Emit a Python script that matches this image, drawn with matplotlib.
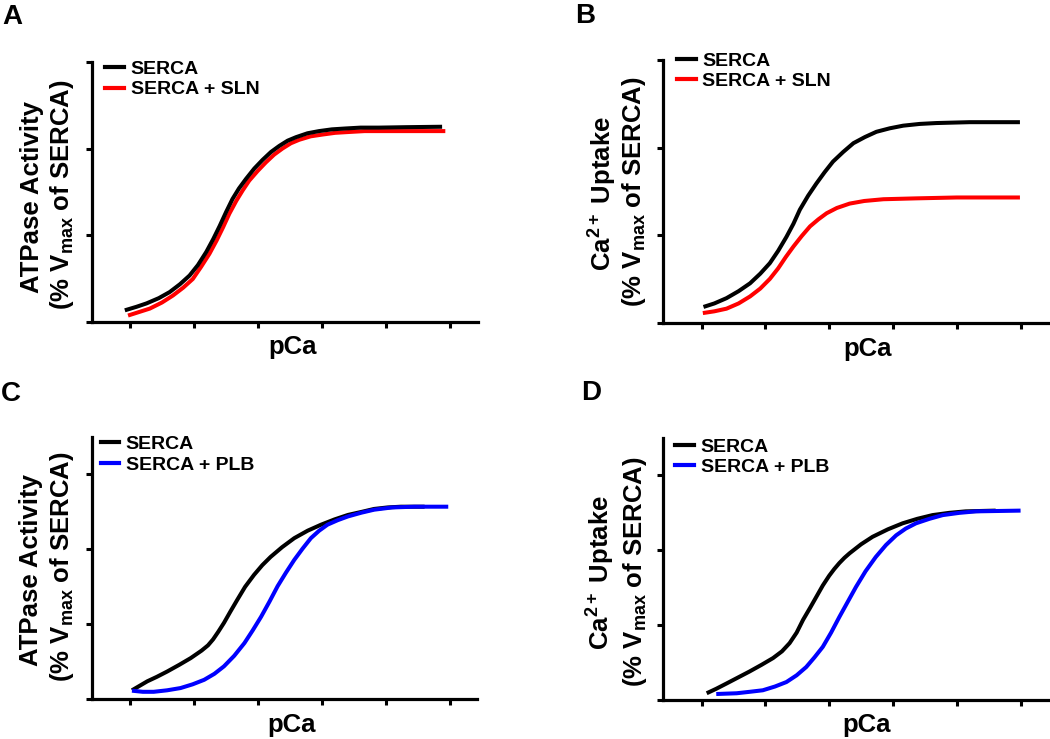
import matplotlib
matplotlib.use("Agg")
import matplotlib.pyplot as plt
from matplotlib.lines import Line2D

plt.rcParams['font.family'] = ['Liberation Sans', 'DejaVu Sans']
plt.rcParams['font.weight'] = 'bold'
plt.rcParams['mathtext.fontset'] = 'custom'
plt.rcParams['mathtext.rm'] = 'Liberation Sans'
plt.rcParams['mathtext.it'] = 'Liberation Sans'
plt.rcParams['mathtext.bf'] = 'Liberation Sans:bold'

# ---- data (x in pCa tick units, y in y-tick units) ----
# Panel A: ATPase activity, SERCA vs SERCA + SLN
a_serca_x = [0.92, 1.10, 1.26, 1.45, 1.62, 1.78, 1.93, 2.06, 2.19, 2.30, 2.40, 2.50, 2.60, 2.70,
             2.81, 2.94, 3.07, 3.20, 3.33, 3.46, 3.59, 3.77, 3.95, 4.15, 4.36, 4.60, 4.88, 5.30, 5.87]
a_serca_y = [0.14, 0.18, 0.22, 0.28, 0.35, 0.44, 0.54, 0.66, 0.81, 0.96, 1.11, 1.27, 1.42, 1.54,
             1.65, 1.77, 1.87, 1.96, 2.03, 2.09, 2.13, 2.175, 2.20, 2.22, 2.23, 2.24, 2.24, 2.245, 2.25]
a_sln_x = [0.97, 1.14, 1.31, 1.50, 1.67, 1.83, 1.98, 2.11, 2.24, 2.35, 2.45, 2.55, 2.66, 2.76,
           2.86, 2.99, 3.12, 3.25, 3.38, 3.51, 3.64, 3.82, 4.00, 4.20, 4.42, 4.66, 4.94, 5.40, 5.92]
a_sln_y = [0.08, 0.12, 0.16, 0.23, 0.31, 0.40, 0.50, 0.64, 0.79, 0.94, 1.09, 1.25, 1.40, 1.52,
           1.63, 1.74, 1.84, 1.93, 2.00, 2.06, 2.10, 2.14, 2.16, 2.18, 2.19, 2.20, 2.20, 2.20, 2.20]

# Panel B: Ca2+ uptake, SERCA vs SERCA + SLN
b_serca_x = [1.03, 1.20, 1.39, 1.58, 1.76, 1.92, 2.07, 2.20, 2.33, 2.44, 2.54, 2.67, 2.80,
             2.93, 3.06, 3.22, 3.38, 3.56, 3.74, 3.95, 4.16, 4.42, 4.68, 5.20, 5.99]
b_serca_y = [0.18, 0.22, 0.28, 0.36, 0.45, 0.56, 0.68, 0.82, 0.98, 1.13, 1.29, 1.45, 1.59,
             1.72, 1.84, 1.95, 2.05, 2.12, 2.18, 2.22, 2.25, 2.27, 2.28, 2.29, 2.29]
b_sln_x = [1.02, 1.20, 1.39, 1.58, 1.76, 1.92, 2.07, 2.20, 2.32, 2.44, 2.57, 2.70, 2.83,
           2.96, 3.12, 3.32, 3.55, 3.85, 4.37, 5.00, 5.99]
b_sln_y = [0.11, 0.13, 0.16, 0.22, 0.30, 0.39, 0.50, 0.62, 0.75, 0.87, 0.99, 1.10, 1.18,
           1.25, 1.31, 1.36, 1.39, 1.41, 1.42, 1.43, 1.43]

# Panel C: ATPase activity, SERCA vs SERCA + PLB
c_serca_x = [1.03, 1.15, 1.27, 1.42, 1.58, 1.77, 1.95, 2.12, 2.22, 2.30, 2.38, 2.47, 2.57, 2.68, 2.80,
             2.94, 3.07, 3.20, 3.38, 3.57, 3.78, 3.99, 4.20, 4.41, 4.62, 4.82, 5.03, 5.24, 5.61]
c_serca_y = [0.12, 0.18, 0.24, 0.30, 0.37, 0.46, 0.55, 0.65, 0.72, 0.80, 0.90, 1.02, 1.17, 1.33, 1.50,
             1.66, 1.79, 1.90, 2.03, 2.15, 2.25, 2.33, 2.40, 2.46, 2.50, 2.54, 2.56, 2.57, 2.57]
c_plb_x = [1.03, 1.20, 1.37, 1.58, 1.79, 1.98, 2.16, 2.32, 2.47, 2.63, 2.79, 2.92, 3.05, 3.18,
           3.31, 3.44, 3.57, 3.70, 3.83, 3.96, 4.09, 4.25, 4.41, 4.62, 4.82, 5.10, 5.45, 5.98]
c_plb_y = [0.115, 0.10, 0.10, 0.12, 0.15, 0.20, 0.26, 0.34, 0.44, 0.58, 0.75, 0.92, 1.10, 1.30,
           1.51, 1.69, 1.86, 2.01, 2.15, 2.25, 2.33, 2.39, 2.44, 2.49, 2.53, 2.56, 2.57, 2.57]

# Panel D: Ca2+ uptake, SERCA vs SERCA + PLB
d_serca_x = [1.08, 1.23, 1.39, 1.57, 1.75, 1.94, 2.12, 2.26, 2.38, 2.49, 2.59, 2.70, 2.80,
             2.90, 3.00, 3.08, 3.16, 3.24, 3.32, 3.50, 3.68, 3.92, 4.15, 4.38, 4.62, 4.88, 5.14, 5.61]
d_serca_y = [0.09, 0.15, 0.22, 0.30, 0.38, 0.47, 0.56, 0.65, 0.76, 0.90, 1.07, 1.23, 1.38,
             1.53, 1.66, 1.75, 1.83, 1.90, 1.96, 2.08, 2.18, 2.28, 2.36, 2.42, 2.47, 2.50, 2.52, 2.53]
d_plb_x = [1.23, 1.55, 1.76, 1.96, 2.15, 2.33, 2.49, 2.64, 2.77, 2.90, 3.03, 3.16, 3.29,
           3.42, 3.57, 3.73, 3.89, 4.05, 4.20, 4.36, 4.57, 4.78, 5.04, 5.30, 6.00]
d_plb_y = [0.08, 0.09, 0.11, 0.13, 0.18, 0.24, 0.33, 0.44, 0.57, 0.71, 0.90, 1.11, 1.31,
           1.51, 1.72, 1.91, 2.07, 2.20, 2.29, 2.36, 2.42, 2.47, 2.50, 2.52, 2.53]

x_ticks = [1, 2, 3, 4, 5, 6]
y_ticks = [0, 1, 2, 3]
letters = ['A', 'B', 'C', 'D']
ylabel_top = ['ATPase Activity', 'Ca$^{2+}$ Uptake', 'ATPase Activity', 'Ca$^{2+}$ Uptake']
ylabel_bottom = '(% V$_{\\mathregular{max}}$ of SERCA)'
xlabel = 'pCa'
legend_labels = [['SERCA', 'SERCA + SLN'], ['SERCA', 'SERCA + SLN'],
                 ['SERCA', 'SERCA + PLB'], ['SERCA', 'SERCA + PLB']]

W, H = 1050, 739
fig = plt.figure(figsize=(W / 100, H / 100), dpi=100)

def fx(px):
    return px / W

def fy(py):
    return 1 - py / H

# axes boxes (left, top, right, bottom) in pixels
boxes = [(91.5, 61.5, 478, 322.5), (663.3, 60, 1048, 322.7),
         (91.7, 437, 477, 699.3), (663.3, 438, 1048, 700)]
ylims = [3.0, 3.0, 3.5, 3.5]
series = [
    ((a_sln_x, a_sln_y, '#ff0000'), (a_serca_x, a_serca_y, 'black')),
    ((b_serca_x, b_serca_y, 'black'), (b_sln_x, b_sln_y, '#ff0000')),
    ((c_serca_x, c_serca_y, 'black'), (c_plb_x, c_plb_y, '#0000ff')),
    ((d_serca_x, d_serca_y, 'black'), (d_plb_x, d_plb_y, '#0000ff')),
]
second_color = ['#ff0000', '#ff0000', '#0000ff', '#0000ff']
legend_anchor = [(0.036, 1.005), (0.036, 1.03), (0.023, 1.005), (0.031, 1.0)]
letter_pos = [(12, 17), (585, 16), (11, 394), (591, 393)]
yl1_pos = [(32, 197), (603, 193), (31, 570), (601, 572)]
yl2_pos = [(62, 195), (634, 192), (62, 567), (635, 572)]
xl_pos = [(293, 347), (868, 349), (292, 725), (867, 725)]

for i in range(4):
    l, t, r, b = boxes[i]
    ax = fig.add_axes([fx(l), fy(b), fx(r) - fx(l), fy(t) - fy(b)])
    for (xs, ys, c) in series[i]:
        ax.plot(xs, ys, color=c, lw=2.9, solid_capstyle='butt', solid_joinstyle='round')
    ax.set_xlim(0.4, 6.43)
    ax.set_ylim(0, ylims[i])
    ax.set_xticks(x_ticks)
    ax.set_yticks(y_ticks)
    ax.set_xticklabels([])
    ax.set_yticklabels([])
    ax.spines['top'].set_visible(False)
    ax.spines['right'].set_visible(False)
    for s in ('left', 'bottom'):
        ax.spines[s].set_linewidth(2.3)
    ax.tick_params(direction='out', length=4, width=2.2, color='black')
    ax.patch.set_alpha(0)

    handles = [Line2D([], [], color='black', lw=3),
               Line2D([], [], color=second_color[i], lw=3)]
    ax.legend(handles, legend_labels[i], loc='upper left', bbox_to_anchor=legend_anchor[i],
              frameon=False, handlelength=0.95, handletextpad=0.35,
              labelspacing=0.15, borderpad=0, borderaxespad=0,
              prop={'weight': 'bold', 'size': 14})

    fig.text(fx(letter_pos[i][0]), fy(letter_pos[i][1]), letters[i], fontsize=20,
             fontweight='bold', ha='center', va='center')
    fig.text(fx(yl1_pos[i][0]), fy(yl1_pos[i][1]), ylabel_top[i], fontsize=18.5,
             fontweight='bold', ha='center', va='center', rotation=90)
    fig.text(fx(yl2_pos[i][0]), fy(yl2_pos[i][1]), ylabel_bottom, fontsize=18.5,
             fontweight='bold', ha='center', va='center', rotation=90)
    fig.text(fx(xl_pos[i][0]), fy(xl_pos[i][1]), xlabel, fontsize=18.5,
             fontweight='bold', ha='center', va='center')

fig.savefig('out.png', dpi=100)
